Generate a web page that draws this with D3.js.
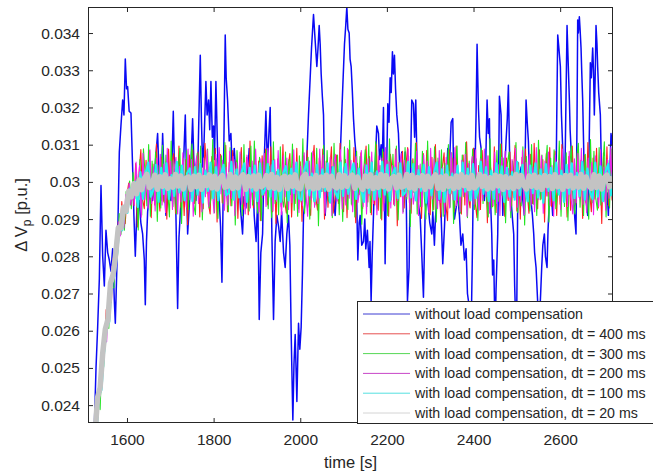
<!DOCTYPE html>
<html>
<head>
<meta charset="utf-8">
<script src="https://cdn.jsdelivr.net/npm/d3@7"></script>
<style>
  body { margin: 0; background: #fff; }
  svg { display: block; font-family: "Liberation Sans", Arial, sans-serif; }
</style>
</head>
<body>
<svg></svg>
<script>
// without load compensation: irregular samples
const blueTime = [1512,1518,1524.6,1528.5,1532.3,1536.2,1540,1543.9,1547.7,1551.5,1555.4,1559.2,1563,1566.9,1570.8,1573.1,1578.5,1582.3,1586,1590,
1593,1596.1,1599,1601.5,1605,1609.2,1613,1616,1619.2,1623,1628.4,1632,1636.1,1640,1642.3,1645,1647.7,1653,1659.2,1664,
1670.7,1674,1678.4,1682.3,1686,1690,1695,1701.5,1706.9,1710,1713,1716.9,1720,1724.6,1729,1734.6,1737,1740,1745,1751.5,
1755,1759.2,1764,1769.2,1772,1774.6,1778,1782.2,1785,1788.4,1791,1793.8,1797,1799.9,1802,1805.3,1809,1813,1816,1819.2,
1822,1824.5,1826.8,1829,1832.2,1836,1839.9,1843,1847.6,1852,1859.1,1862,1866.8,1870,1874.5,1878,1882.2,1886,1890,1893.7,
1898,1902,1905.3,1909,1913,1916,1920.7,1924,1926.8,1930.6,1934.5,1938.3,1942,1946,1950,1953.7,1957,1961.4,1965.2,1969,
1972.9,1976,1979.1,1982.9,1985.5,1988.3,1992.2,1996,1999,2002.1,2005,2007.5,2011.4,2015,2019,2022.9,2026,2030.6,2034.4,2038.3,
2041,2043.7,2046,2048.3,2051,2053.7,2057.5,2061,2065.2,2069,2072.9,2076,2080.6,2084,2088.3,2092,2096,2099,2102.1,2105,
2107.5,2110,2112.9,2115,2117.5,2120,2122.9,2126,2128.3,2132.9,2136,2138.3,2142,2146,2149,2151.3,2155,2159,2161,2163.6,
2166,2169,2172,2176.7,2180.6,2183,2186.7,2189,2192.1,2194,2195.9,2199,2202.1,2205,2207.5,2210,2212.8,2215,2217.5,2220,
2222.9,2226.7,2230,2234.4,2238,2242.1,2245,2247.5,2251.3,2254,2257.4,2261.3,2264,2266.7,2269,2271.3,2276.7,2280,2284.4,2288.2,
2292,2295.9,2299,2303.6,2306,2309.7,2312,2315.1,2317.5,2321,2325.2,2329,2333,2336,2340.6,2344,2348.3,2352.1,2354,2356,
2359.8,2363,2367.5,2371,2375.2,2379,2382.9,2386,2390.6,2394.4,2397,2400.6,2403,2405.9,2408.2,2411.3,2414,2417.5,2421,2425.2,
2428,2431.3,2434,2436.7,2439,2442.1,2444,2446.7,2449.8,2452,2455.9,2458,2459.8,2463.6,2467.5,2471,2475.1,2478,2480.5,2483,
2486.7,2490,2492.8,2495,2498.2,2500,2502.1,2506,2509.8,2513,2517.4,2519,2521.3,2524,2526.7,2529,2532.8,2536,2539,2541,
2544.4,2548,2552,2555,2557.4,2560,2563.6,2566,2569.7,2572,2575.1,2579,2582.8,2586,2590.5,2592.5,2594.4,2597,2600.5,2603,
2605.9,2608,2609.7,2612,2615.9,2618,2621.3,2623,2625.1,2628,2631.3,2634,2636.6,2639,2640.5,2642,2644.3,2646,2648.2,2650,
2652,2654,2655.9,2659,2663.6,2666,2668,2669.7,2672,2675.1,2677,2678.9,2681,2682.8,2685,2686.6,2689,2692.8,2695,2698.2,
2702,2705.9,2709,2711.3,2714,2717.4,2720,2722];
const blueValues = [.0222,.0229,.0234,.0250,.0261,.0274,.0299,.0280,.0272,.0287,.0281,.0279,.0276,.0282,.0268,.0262,.0285,.0308,.0315,.0322,
.0318,.0333,.0325,.03256,.0319,.03185,.0304,.0291,.0280,.0293,.0295,.0289,.0286,.0279,.0267,.0284,.0292,.0298,.0295,.0303,
.0313,.0302,.0295,.0313,.0300,.0291,.0297,.0295,.0319,.0301,.0291,.0266,.0285,.0295,.0300,.0318,.0304,.0286,.0296,.0317,
.0303,.0295,.0307,.0334,.0316,.0304,.0311,.0327,.0318,.0322,.0314,.0327,.0312,.0315,.0306,.0327,.0309,.0295,.0288,.0273,
.0296,.0318,.03395,.0328,.0322,.0311,.0313,.0303,.0309,.0301,.0300,.0293,.0286,.0296,.0293,.0301,.0309,.0299,.0304,.0291,
.0284,.0296,.0263,.0281,.0286,.0303,.0319,.0305,.0311,.0320,.0286,.0263,.0284,.0291,.0288,.0284,.0292,.0281,.0277,.0286,
.0291,.0283,.0259,.0236,.0251,.0259,.0241,.0262,.0255,.0261,.0275,.0291,.0295,.0306,.0318,.0328,.0336,.0345,.0338,.0331,
.0336,.0342,.0337,.0329,.0323,.0318,.0291,.0298,.0295,.0302,.0304,.0296,.0291,.0299,.0295,.0306,.0319,.0328,.0337,.0342,
.0347,.0341,.0340,.0333,.0331,.0325,.0317,.0311,.0308,.0279,.0289,.0291,.0283,.0284,.0290,.0282,.0287,.0277,.0284,.0268,
.0280,.0291,.0302,.0315,.0313,.0306,.0310,.0304,.0320,.0300,.0278,.0301,.0321,.0316,.0328,.0324,.0335,.0329,.0334,.0325,
.0318,.0313,.0302,.0308,.0300,.0308,.0293,.0268,.0277,.0300,.0322,.0321,.0312,.0322,.0308,.0295,.0291,.0282,.0269,.0291,
.0297,.0293,.0289,.0286,.0292,.0283,.0290,.0295,.0295,.0299,.0291,.0278,.0288,.0297,.0309,.0303,.0316,.0317,.0303,.0290,
.0293,.0297,.0291,.0283,.0286,.0279,.0282,.0270,.0266,.0259,.0278,.0309,.0301,.0318,.0337,.0320,.0312,.0309,.0301,.0295,
.0304,.0322,.0313,.0317,.0296,.0286,.0275,.0279,.0258,.0271,.0286,.0303,.0323,.0318,.0291,.0300,.0311,.0317,.0326,.0309,
.0295,.0290,.0286,.0272,.0259,.0268,.0295,.0301,.0304,.0296,.0291,.0305,.0322,.0316,.0311,.0302,.0295,.0291,.0286,.0281,
.0277,.0268,.0262,.0270,.0277,.0283,.0286,.0280,.0277,.0287,.0295,.0298,.0291,.0297,.0300,.0321,.03395,.0336,.0331,.0318,
.0309,.0299,.0295,.0310,.0342,.0334,.0322,.0314,.0309,.0301,.0295,.0290,.0286,.0318,.03435,.0340,.03444,.0341,.0336,.0329,
.0322,.0311,.0300,.0296,.0291,.0302,.0318,.0332,.0328,.0336,.0330,.0318,.0329,.0342,.0337,.0331,.0324,.0318,.0305,.0295,
.0299,.0293,.0297,.0291,.0300,.0313,.0310,.0314];

// with load compensation: evenly sampled from the start time, every step seconds
const redStart = 1520, redStep = 4;
const greenStart = 1522, greenStep = 4;
const magentaStart = 1521, magentaStep = 4;
const cyanStart = 1523, cyanStep = 6;
const grayStart = 1520, grayStep = 6;

const redValues = [.02291,.02283,.02395,.02354,.02458,.02522,.02497,.02560,.02657,.02613,.02712,.02676,.02794,.02804,.02789,.02893,.02862,.02947,.02890,.02888,
.02967,.02997,.02939,.02984,.02936,.03049,.02879,.03027,.03087,.02953,.02928,.03058,.02970,.03084,.02904,.03048,.02938,.03102,.02982,.02922,
.03066,.02948,.03030,.02900,.03088,.02964,.03054,.03076,.02916,.02960,.03096,.02932,.03020,.02910,.03060,.02885,.03072,.02976,.03086,.02942,
.02966,.03080,.02906,.03046,.02928,.03104,.03028,.02940,.02914,.03068,.02954,.03090,.02892,.03038,.03074,.02944,.02978,.03098,.02920,.03052,
.02936,.03084,.02960,.03058,.02902,.03030,.03092,.02926,.02950,.03066,.02912,.03110,.02972,.02930,.03080,.02958,.03056,.02896,.03070,.02964,
.03088,.02938,.02974,.03094,.02920,.03048,.02888,.03062,.03036,.02934,.03100,.02948,.02916,.03042,.03076,.02906,.03024,.02942,.03090,.02928,
.03054,.02894,.03070,.02968,.03084,.02940,.02910,.03046,.03098,.02956,.02924,.03064,.02980,.03088,.02900,.03056,.02932,.03030,.03094,.02916,
.02954,.03072,.02942,.03104,.02962,.02920,.03060,.02904,.03086,.03022,.02936,.03092,.02890,.03050,.02966,.03078,.02928,.03040,.03096,.02946,
.03068,.02912,.03026,.02938,.03100,.02924,.03044,.02898,.03080,.02970,.03058,.02908,.03074,.03034,.02940,.03088,.02882,.03052,.02960,.03082,
.02930,.03046,.03092,.02944,.02916,.03062,.02964,.03106,.02936,.03028,.02902,.03076,.02952,.03084,.02974,.02912,.03066,.02926,.03100,.02958,
.03056,.02906,.03038,.03078,.02940,.02896,.03086,.02968,.03064,.02920,.03096,.02950,.03020,.02914,.03072,.02938,.03108,.02960,.02930,.03050,
.03090,.02942,.02904,.03044,.02926,.03084,.02972,.03060,.02890,.03070,.03032,.02934,.03094,.02918,.03048,.02946,.03102,.02964,.02908,.03064,
.02950,.03080,.02936,.03026,.03098,.02922,.03052,.02900,.03066,.02956,.03088,.02970,.02916,.03074,.02942,.03104,.02980,.02928,.03086,.02954,
.03060,.02892,.03076,.02962,.03092,.02934,.02976,.03082,.02910,.03054,.02940,.03100,.02952,.03030,.02906,.03068,.02924,.03096,.02966,.02938,
.03084,.02958,.03058,.02902,.03072,.02944,.03106,.02970,.02920,.03064,.02954,.03090,.02930,.03040,.02888,.03078,.02948,.03094,.02936,.03036,
.02950];

const greenValues = [.02225,.02354,.02333,.02430,.02388,.02528,.02503,.02582,.02662,.02606,.02723,.02713,.02717,.02834,.02799,.02915,.02859,.02927,.02870,.02974,
.02933,.03002,.02928,.03025,.02954,.03021,.02871,.03060,.02911,.03089,.03018,.02936,.03100,.02908,.03056,.02962,.03080,.02894,.03044,.02930,
.03098,.02944,.03072,.02976,.02906,.03110,.02934,.03048,.02914,.03030,.03090,.02888,.03064,.02952,.03084,.02926,.03026,.03102,.02940,.02912,
.03076,.02960,.03096,.02898,.03058,.02968,.03088,.02930,.02956,.03114,.02918,.03062,.02902,.03036,.03070,.02942,.03106,.02974,.02920,.03092,
.02936,.03050,.02884,.03084,.02964,.03074,.02910,.03100,.02950,.03022,.02922,.03096,.02938,.03110,.02960,.02916,.03066,.02896,.03054,.02970,
.03086,.02928,.03042,.02904,.03108,.02942,.03028,.02912,.03094,.02954,.02932,.03080,.02890,.03060,.02966,.03102,.02924,.03048,.02908,.03070,
.02946,.03116,.02916,.03032,.03066,.02900,.03078,.02958,.02938,.03090,.02882,.03056,.02974,.03098,.02930,.03084,.02948,.03040,.02904,.03104,
.02962,.03072,.02912,.03058,.02894,.03094,.02970,.02926,.03112,.02940,.03046,.02906,.03082,.02956,.03068,.02886,.03024,.03086,.02934,.03100,
.02918,.03054,.02966,.03108,.02928,.03040,.02902,.03088,.02944,.03026,.02910,.03116,.02952,.03074,.02936,.03096,.02898,.03034,.03062,.02920,
.03092,.02954,.03070,.02880,.03058,.02972,.03104,.02914,.03044,.02934,.03082,.02964,.02900,.03110,.02946,.03030,.02922,.03094,.02892,.03064,
.02958,.03086,.02908,.03050,.02976,.03100,.02932,.03078,.02888,.03038,.03096,.02940,.02916,.03072,.02960,.03106,.02904,.03056,.02970,.03088,
.02926,.03062,.02896,.03034,.03090,.02942,.03076,.02954,.02906,.03116,.02930,.03028,.02912,.03084,.02948,.03102,.02964,.03064,.02890,.03048,
.03080,.02904,.03056,.02960,.03106,.02918,.03030,.02936,.03094,.02884,.03068,.02974,.02922,.03100,.02940,.03044,.02910,.03112,.02952,.03072,
.02942,.03036,.03098,.02892,.03064,.02956,.03086,.02928,.02970,.03110,.02908,.03052,.02934,.03078,.02896,.03040,.03096,.02946,.02914,.03060,
.03104,.02932,.03046,.02910,.03074,.02966,.02900,.03114,.02944,.03082,.02958,.02924,.03092,.02938,.03028,.03108,.02906,.03058,.02930,.03088,
.02940];

const magentaValues = [.02285,.02271,.02372,.02370,.02485,.02465,.02520,.02603,.02570,.02679,.02673,.02773,.02733,.02811,.02792,.02893,.02855,.02924,.02876,.02966,
.02927,.02996,.02938,.02988,.02938,.03053,.02961,.03044,.02905,.03077,.02952,.03022,.02930,.03086,.02942,.03040,.02922,.03064,.02964,.03074,
.02938,.03048,.02918,.03090,.02970,.03056,.02926,.03034,.03066,.02914,.03042,.02946,.03078,.02976,.02932,.03088,.02952,.03060,.02908,.03036,
.03070,.02942,.03028,.02920,.03064,.02960,.03086,.02934,.03046,.02978,.02916,.03074,.02950,.03092,.02968,.03058,.02924,.03040,.02938,.03082,
.02956,.03068,.02910,.03052,.02964,.03080,.02940,.03024,.02914,.03072,.03038,.02930,.03056,.02952,.03088,.02972,.02920,.03062,.02958,.03076,
.02934,.03090,.02966,.03046,.02922,.03060,.02948,.03084,.02976,.02912,.03070,.02960,.03064,.02926,.03030,.02944,.03086,.02954,.03054,.02918,
.03042,.02936,.03078,.02970,.02908,.03056,.02952,.03082,.02932,.03036,.02942,.03088,.02974,.03072,.02916,.03050,.02962,.03066,.02910,.03044,
.03074,.02948,.02972,.03086,.02928,.03040,.02938,.03090,.02956,.03058,.02920,.03034,.03068,.02944,.02976,.03084,.02934,.03048,.02914,.03062,
.02964,.03080,.02942,.03026,.02912,.03070,.02958,.03064,.02922,.03092,.02970,.03054,.02930,.03044,.02938,.03086,.02950,.03032,.03076,.02916,
.03058,.02960,.03088,.02926,.03036,.02940,.02974,.03082,.02910,.03048,.02934,.03072,.02966,.03056,.02918,.03090,.02954,.03062,.02972,.02928,
.03084,.02944,.03040,.02914,.03066,.02978,.02930,.03078,.02952,.03092,.02936,.03030,.02920,.03058,.02962,.03074,.02908,.03050,.02956,.03068,
.02940,.03086,.02968,.02924,.03062,.02950,.03088,.02960,.03070,.02916,.03024,.02936,.03080,.02942,.03046,.02910,.03066,.02964,.03082,.02954,
.03036,.02922,.03060,.02958,.03090,.02932,.03028,.02946,.03084,.02912,.03052,.02970,.03074,.02938,.03040,.02920,.03092,.02952,.02974,.03070,
.02916,.03056,.02962,.03080,.02936,.03044,.02908,.03072,.02972,.03058,.02926,.03088,.02950,.03034,.02934,.03082,.02958,.02914,.03062,.02944,
.03076,.02954,.03090,.02940,.03030,.02918,.03064,.02964,.03052,.02912,.03070,.02976,.02934,.03086,.02946,.03040,.02924,.03060,.02956,.03092,
.02948];

const cyanValues = [.02281,.02315,.02425,.02441,.02541,.02609,.02624,.02733,.02747,.02806,.02885,.02870,.02935,.02917,.02982,.02957,.03000,.02933,.03026,.02954,
.03024,.03052,.02960,.02980,.03046,.02946,.03038,.02968,.03050,.02954,.03018,.02962,.03054,.02972,.03044,.02950,.03024,.03036,.02948,.03040,
.02966,.03048,.02944,.03030,.02976,.03052,.02956,.03040,.02950,.03020,.03046,.02964,.02970,.03054,.02952,.03034,.02958,.03028,.03050,.02946,
.03038,.02974,.03044,.02948,.03050,.02966,.02980,.03048,.02960,.03056,.02954,.03032,.02946,.03024,.03042,.02950,.03036,.02970,.03052,.02956,
.02952,.03030,.03054,.02964,.03022,.02948,.03046,.02958,.03034,.02976,.03050,.02944,.03040,.02972,.02956,.03052,.02962,.03048,.02968,.03026,
.03050,.02954,.03036,.02978,.02946,.03044,.02970,.03052,.02952,.03028,.02960,.03054,.02966,.03046,.02948,.03020,.03038,.02956,.03050,.02964,
.02972,.03054,.02958,.03048,.02950,.03032,.02976,.03046,.02944,.03040,.02964,.03026,.03052,.02954,.03034,.02946,.03044,.02970,.03022,.02952,
.03044,.02962,.03052,.02974,.03036,.02950,.03048,.02956,.02980,.03054,.02968,.03040,.02948,.03030,.02954,.03050,.02972,.03042,.02946,.03038,
.02960,.03026,.02952,.03054,.02964,.03046,.02978,.02948,.03044,.02970,.03050,.02958,.03034,.02944,.03048,.02976,.03038,.02950,.03052,.02966,
.03030,.02946,.03046,.02968,.03050,.02956,.03024,.02962,.03054,.02952,.03036,.02974,.02954,.03052,.02960,.03042,.02948,.03028,.03048,.02964,
.03040];

const grayValues = [.02276,.02318,.02420,.02447,.02540,.02604,.02630,.02728,.02751,.02807,.02877,.02876,.02932,.02922,.02975,.02960,.02995,.02968,.03005,.02979,
.03009,.03020,.02985,.02991,.03018,.02980,.03014,.02988,.03019,.02983,.03008,.02986,.03020,.02989,.03016,.02981,.03010,.03013,.02980,.03015,
.02987,.03018,.02980,.03012,.02990,.03019,.02984,.03015,.02981,.03009,.03017,.02986,.02988,.03020,.02982,.03013,.02984,.03011,.03019,.02980,
.03014,.02989,.03016,.02981,.03018,.02987,.02992,.03017,.02985,.03020,.02983,.03012,.02980,.03010,.03015,.02982,.03013,.02988,.03019,.02984,
.02982,.03012,.03020,.02986,.03009,.02981,.03017,.02984,.03013,.02990,.03018,.02980,.03015,.02989,.02984,.03019,.02986,.03017,.02988,.03010,
.03018,.02983,.03013,.02991,.02980,.03016,.02988,.03019,.02982,.03011,.02985,.03020,.02987,.03017,.02981,.03008,.03014,.02984,.03018,.02986,
.02989,.03020,.02984,.03018,.02981,.03012,.02990,.03017,.02980,.03015,.02987,.03010,.03019,.02983,.03013,.02980,.03016,.02988,.03009,.02982,
.03016,.02986,.03019,.02990,.03013,.02982,.03017,.02984,.02992,.03020,.02988,.03015,.02981,.03011,.02983,.03018,.02989,.03015,.02980,.03014,
.02985,.03010,.02982,.03020,.02987,.03017,.02991,.02981,.03016,.02988,.03018,.02985,.03013,.02980,.03017,.02990,.03014,.02982,.03019,.02987,
.03012,.02980,.03017,.02988,.03018,.02984,.03010,.02986,.03020,.02983,.03013,.02990,.02983,.03019,.02985,.03016,.02981,.03011,.03018,.02987,
.03015];

const seriesNames = ['without load compensation',
  'with load compensation, dt = 400 ms',
  'with load compensation, dt = 300 ms',
  'with load compensation, dt = 200 ms',
  'with load compensation, dt = 100 ms',
  'with load compensation, dt = 20 ms'];

const xTicks = [1600, 1800, 2000, 2200, 2400, 2600];
const yTicks = [0.024, 0.025, 0.026, 0.027, 0.028, 0.029, 0.03, 0.031, 0.032, 0.033, 0.034];
const xLimits = [1510, 2722];
const yLimits = [0.02352, 0.0347];

let width = 653;
let height = 476;
let margin = {top: 7, right: 40, bottom: 53, left: 88};
let axisColor = '#262626';
let fontFamily = '"Liberation Sans", Arial, sans-serif';

let svg = d3.select('svg')
    .attr('width', width)
    .attr('height', height);

let xScale = d3.scaleLinear()
    .domain(xLimits)
    .range([margin.left, width - margin.right]);

let yScale = d3.scaleLinear()
    .domain(yLimits)
    .range([height - margin.bottom, margin.top]);

let evenly = (start, step, values) => values.map((v, i) => [start + i * step, v]);

let series = [
    {name: seriesNames[0], color: '#0a0af5', key: '#3c3cd2', width: 1.5, points: blueTime.map((t, i) => [t, blueValues[i]])},
    {name: seriesNames[1], color: '#ff2020', key: '#e65050', width: 1.1, points: evenly(redStart, redStep, redValues)},
    {name: seriesNames[2], color: '#22e622', key: '#55d855', width: 1.1, points: evenly(greenStart, greenStep, greenValues)},
    {name: seriesNames[3], color: '#f020f0', key: '#c846c8', width: 1.1, points: evenly(magentaStart, magentaStep, magentaValues)},
    {name: seriesNames[4], color: '#22f0f0', key: '#55e0e0', width: 2.2, points: evenly(cyanStart, cyanStep, cyanValues)},
    {name: seriesNames[5], color: '#c3c3c3', key: '#d4d4d4', width: 5.5, points: evenly(grayStart, grayStep, grayValues)}
];

svg.append('clipPath')
    .attr('id', 'plot-clip')
    .append('rect')
    .attr('x', margin.left)
    .attr('y', margin.top)
    .attr('width', width - margin.left - margin.right)
    .attr('height', height - margin.top - margin.bottom);

let line = d3.line()
    .x(d => xScale(d[0]))
    .y(d => yScale(d[1]));

svg.append('g')
    .attr('clip-path', 'url(#plot-clip)')
    .selectAll('path')
    .data(series)
    .enter()
    .append('path')
    .attr('fill', 'none')
    .attr('stroke', d => d.color)
    .attr('stroke-width', d => d.width)
    .attr('stroke-linejoin', 'round')
    .attr('d', d => line(d.points));

// axes, MATLAB style: inward ticks on all four sides
let styleAxis = (g) => {
    g.attr('font-family', fontFamily).attr('font-size', 15.5);
    g.select('.domain').remove();
    g.selectAll('line').attr('stroke', axisColor);
    g.selectAll('text').attr('fill', axisColor);
};

svg.append('g')
    .attr('transform', 'translate(0,' + (height - margin.bottom) + ')')
    .call(d3.axisBottom(xScale).tickValues(xTicks).tickSizeInner(-5).tickSizeOuter(0).tickPadding(11).tickFormat(d3.format('d')))
    .call(styleAxis);

svg.append('g')
    .attr('transform', 'translate(0,' + margin.top + ')')
    .call(d3.axisTop(xScale).tickValues(xTicks).tickSizeInner(-5).tickSizeOuter(0).tickFormat(''))
    .call(styleAxis);

svg.append('g')
    .attr('transform', 'translate(' + margin.left + ',0)')
    .call(d3.axisLeft(yScale).tickValues(yTicks).tickSizeInner(-5).tickSizeOuter(0).tickPadding(8).tickFormat(d3.format('~g')))
    .call(styleAxis);

svg.append('g')
    .attr('transform', 'translate(' + (width - margin.right) + ',0)')
    .call(d3.axisRight(yScale).tickValues(yTicks).tickSizeInner(-5).tickSizeOuter(0).tickFormat(''))
    .call(styleAxis);

svg.append('rect')
    .attr('x', margin.left + 0.5)
    .attr('y', margin.top + 0.5)
    .attr('width', width - margin.left - margin.right - 1)
    .attr('height', height - margin.top - margin.bottom - 1)
    .attr('fill', 'none')
    .attr('stroke', axisColor)
    .attr('stroke-width', 1);

// axis labels
svg.append('text')
    .attr('x', (margin.left + width - margin.right) / 2)
    .attr('y', 468)
    .attr('text-anchor', 'middle')
    .attr('font-family', fontFamily)
    .attr('font-size', 16.5)
    .attr('fill', axisColor)
    .text('time [s]');

let yLabel = svg.append('text')
    .attr('transform', 'translate(27,' + ((margin.top + height - margin.bottom) / 2) + ') rotate(-90)')
    .attr('text-anchor', 'middle')
    .attr('font-family', fontFamily)
    .attr('font-size', 16.5)
    .attr('fill', axisColor);
yLabel.append('tspan').text('\u0394 V');
yLabel.append('tspan').attr('font-size', 12).attr('dy', 4).text('p');
yLabel.append('tspan').attr('dy', -4).text(' [p.u.]');

// legend
let legend = svg.append('g');
let legendTop = 301;
let legendLeft = 357;
let rowHeight = 19.8;

legend.append('rect')
    .attr('x', legendLeft + 0.5)
    .attr('y', legendTop + 0.5)
    .attr('width', width - legendLeft)
    .attr('height', 122)
    .attr('fill', '#ffffff')
    .attr('stroke', axisColor)
    .attr('stroke-width', 1);

let rows = legend.selectAll('g.row')
    .data(series)
    .enter()
    .append('g')
    .attr('class', 'row')
    .attr('transform', (d, i) => 'translate(0,' + (legendTop + 13 + i * rowHeight) + ')');

rows.append('line')
    .attr('x1', legendLeft + 6)
    .attr('x2', legendLeft + 53)
    .attr('y1', 0)
    .attr('y2', 0)
    .attr('stroke', d => d.key)
    .attr('stroke-width', 1);

rows.append('text')
    .attr('x', legendLeft + 58)
    .attr('y', 5)
    .attr('font-family', fontFamily)
    .attr('font-size', 14.2)
    .attr('fill', axisColor)
    .text(d => d.name);
</script>
</body>
</html>
